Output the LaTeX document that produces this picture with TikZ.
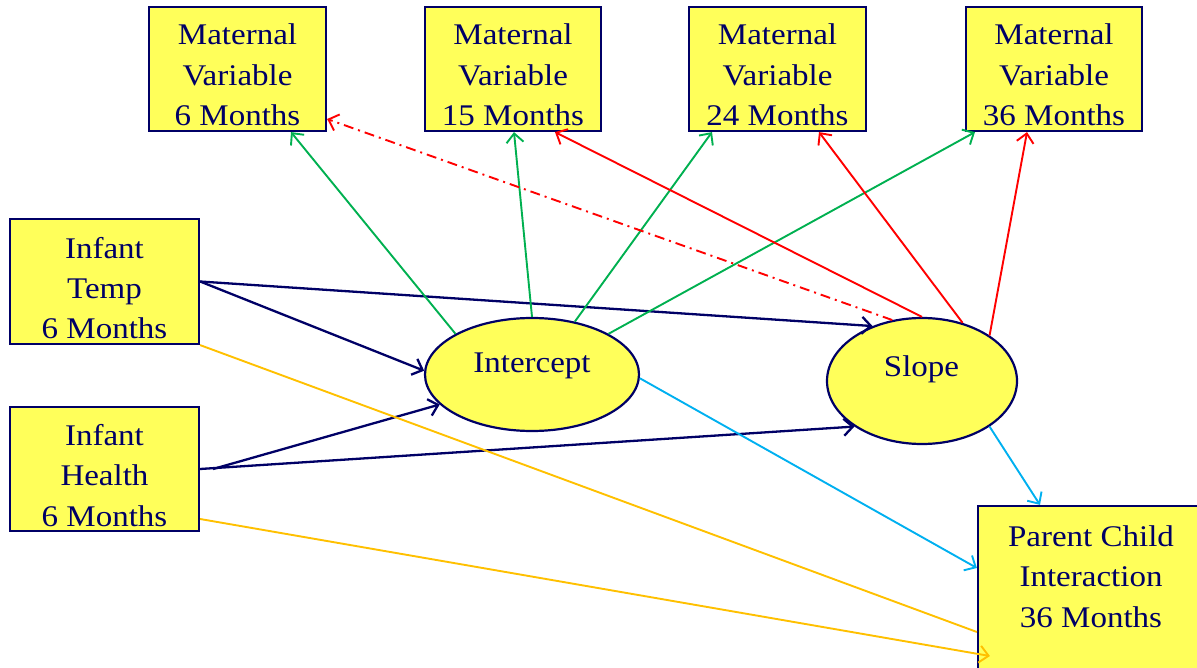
\documentclass[tikz,border=0pt]{standalone}
\usepackage{fontspec}
\setmainfont[FakeStretch=1.1]{Liberation Serif}
\usetikzlibrary{arrows.meta,shapes.geometric}
\definecolor{navy}{RGB}{0,0,102}
\definecolor{boxyellow}{RGB}{255,255,90}
\definecolor{pgreen}{RGB}{0,176,80}
\definecolor{pred}{RGB}{255,0,0}
\definecolor{pcyan}{RGB}{0,176,240}
\definecolor{porange}{RGB}{255,192,0}
\begin{document}
\begin{tikzpicture}[x=1pt,y=-1pt,
  box/.style={draw=navy, line width=2.2pt, fill=boxyellow, inner sep=0pt},
  oval/.style={ellipse, draw=navy, line width=2.2pt, fill=boxyellow, inner sep=0pt},
  lbl/.style={anchor=base, align=center, text=navy, font=\fontsize{30}{40.5}\selectfont, inner sep=0pt},
  arr/.style={line width=1.9pt, -{Straight Barb[length=9pt,width=17pt]}},
  navyarr/.style={arr, draw=navy, line width=2.3pt},
  greenarr/.style={arr, draw=pgreen},
  redarr/.style={arr, draw=pred},
  cyanarr/.style={arr, draw=pcyan},
  orangearr/.style={arr, draw=porange},
  dashdot/.style={dash pattern=on 10pt off 5pt on 2pt off 5pt}
]
\useasboundingbox (0,0) rectangle (1197,668);

% boxes
\node[box, minimum width=177pt, minimum height=124pt] (mv6)  at (237.5,69) {};
\node[box, minimum width=176pt, minimum height=124pt] (mv15) at (513,69) {};
\node[box, minimum width=177pt, minimum height=124pt] (mv24) at (777.5,69) {};
\node[box, minimum width=176pt, minimum height=124pt] (mv36) at (1054,69) {};
\node[box, minimum width=189pt, minimum height=125pt] (temp) at (104.5,281.5) {};
\node[box, minimum width=189pt, minimum height=124pt] (health) at (104.5,469) {};
\node[box, minimum width=232pt, minimum height=174pt] (pc) at (1094,593) {};
\node[oval, minimum width=214pt, minimum height=113pt] (int) at (532,374.5) {};
\node[oval, minimum width=190pt, minimum height=126pt] (slope) at (922,381) {};

% texts (base anchor = last line baseline)
\node[lbl] (mv6t)  at (237.5,126) {Maternal\\Variable\\6 Months};
\node[lbl] (mv15t) at (513,126) {Maternal\\Variable\\15 Months};
\node[lbl] (mv24t) at (777.5,126) {Maternal\\Variable\\24 Months};
\node[lbl] (mv36t) at (1054,126) {Maternal\\Variable\\36 Months};
\node[lbl] (tempt) at (104.5,339) {Infant\\Temp\\6 Months};
\node[lbl] (healtht) at (104.5,526) {Infant\\Health\\6 Months};
\node[lbl] (pct) at (1091,627) {Parent Child\\Interaction\\36 Months};
\node[lbl] (intt) at (532,373) {Intercept};
\node[lbl] (slopet) at (921.5,377) {Slope};

% navy predictors
\draw[navyarr] (temp.east) -- (int.178);
\draw[navyarr] (temp.east) -- (slope.132);
\draw[navyarr] ([xshift=13pt]health.east) -- (int.198);
\draw[navyarr] (health.east) -- (slope.214);

% green from intercept
\draw[greenarr] (int.152) -- ([xshift=53.5pt]mv6.south);
\draw[greenarr] (int.90) -- ([xshift=1pt]mv15.south);
\draw[greenarr] (int.51) -- ([xshift=-65.5pt]mv24.south);
\draw[greenarr] (int.28) -- ([xshift=-79pt]mv36.south);

% red from slope
\draw[redarr] (slope.90) -- ([xshift=42pt]mv15.south);
\draw[redarr] (slope.55) -- ([xshift=41.5pt]mv24.south);
\draw[redarr] (slope.34) -- ([xshift=-27pt]mv36.south);
\draw[redarr, dashdot] (slope.116) -- ([yshift=-50pt]mv6.east);

% cyan to outcome
\draw[cyanarr] (int.-2) -- ([yshift=25pt]pc.west);
\draw[cyanarr] (slope.-34) -- ([xshift=-54pt]pc.north);

% orange to outcome
\draw[draw=porange, line width=1.9pt] (temp.south east) -- ([yshift=-39pt]pc.west);
\draw[orangearr] ([yshift=-50pt]health.east) -- ([xshift=13pt,yshift=-63pt]pc.west);
\end{tikzpicture}
\end{document}
